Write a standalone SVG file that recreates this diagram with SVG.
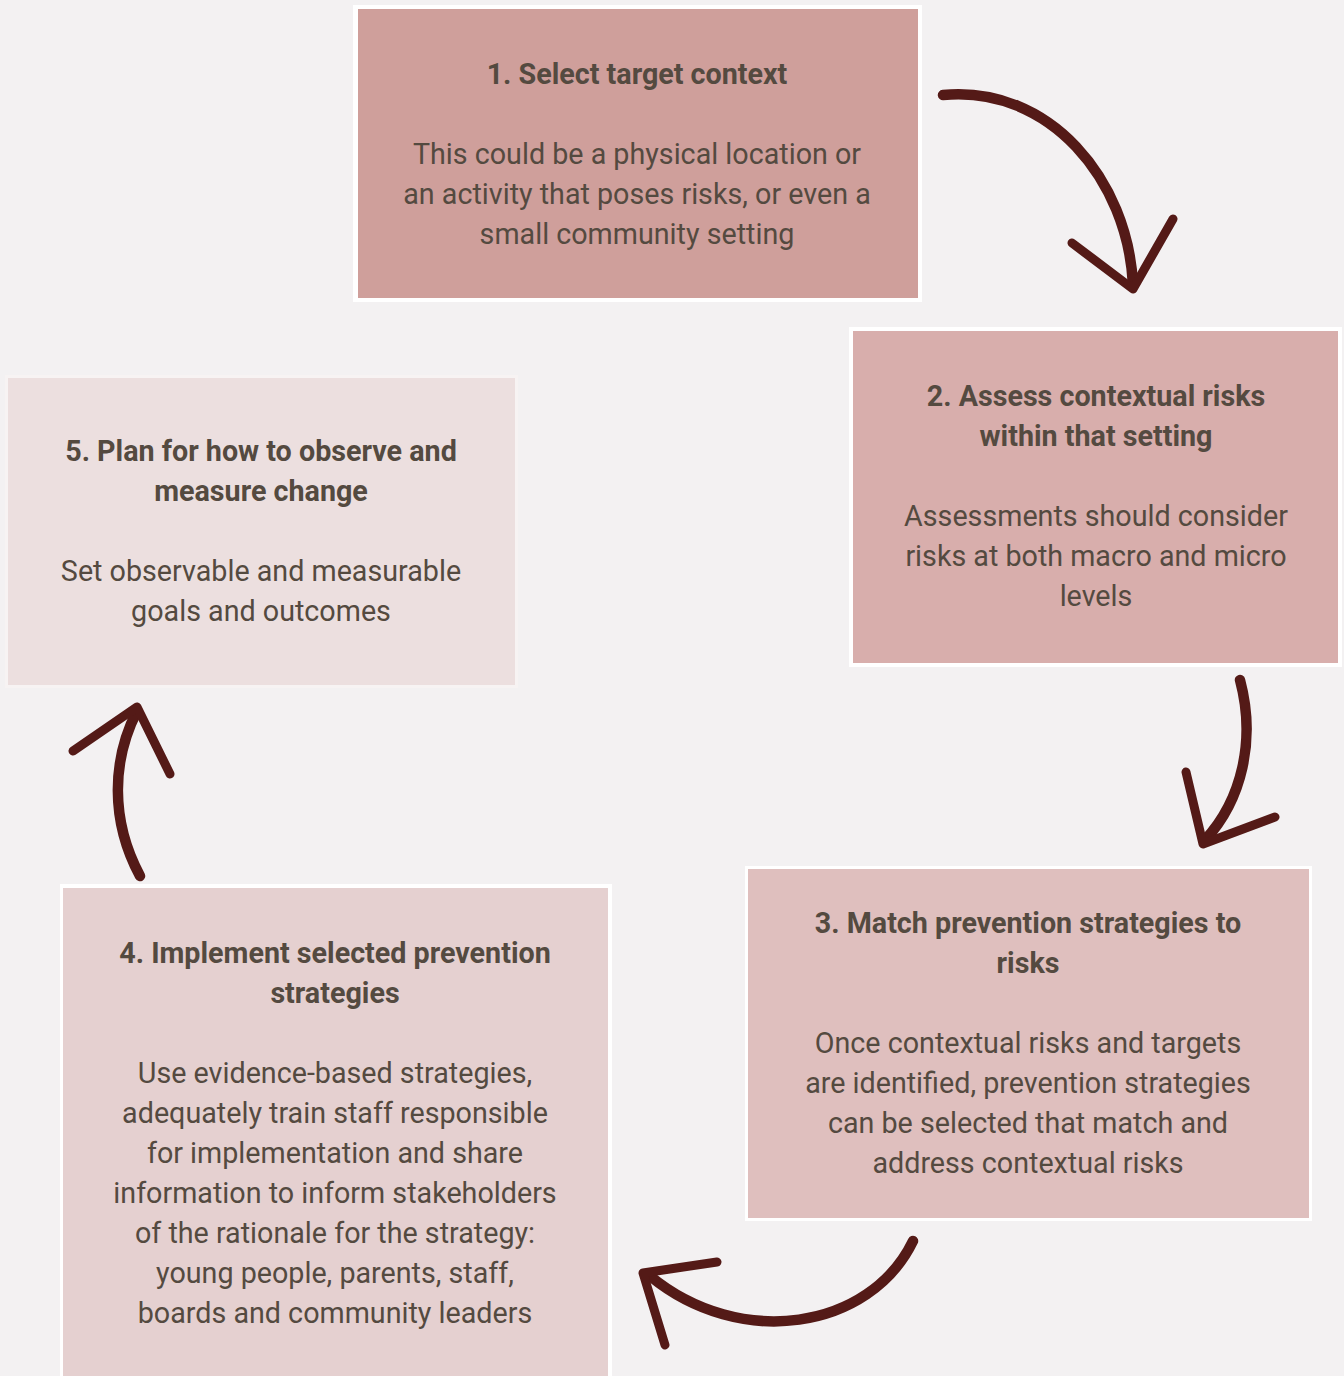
<svg xmlns="http://www.w3.org/2000/svg" width="1344" height="1376" viewBox="0 0 1344 1376">
<style>
.t{font-family:Roboto,"Liberation Sans",sans-serif;font-size:28.7px;fill:#544a40;text-anchor:middle}
.b{font-weight:bold}
.frame{fill:#ffffff}
.arr{fill:none;stroke:#541a17;stroke-width:9;stroke-linecap:round;stroke-linejoin:round}
.cv{stroke-width:10.5}
</style>
<rect width="1344" height="1376" fill="#f3f1f2"/>
<g id="node1">
<rect class="frame" x="353" y="5" width="569" height="297"/>
<rect x="358" y="9" width="560" height="289" fill="#cf9f9b"/>
<text class="t b" x="637" y="84">1. Select target context</text>
<text class="t" x="637" y="164">This could be a physical location or</text>
<text class="t" x="637" y="204">an activity that poses risks, or even a</text>
<text class="t" x="637" y="244">small community setting</text>
</g>
<g id="node2">
<rect class="frame" x="849" y="327" width="493" height="340"/>
<rect x="853" y="331" width="485" height="332" fill="#d8aeac"/>
<text class="t b" x="1096" y="406">2. Assess contextual risks</text>
<text class="t b" x="1096" y="446">within that setting</text>
<text class="t" x="1096" y="526">Assessments should consider</text>
<text class="t" x="1096" y="566">risks at both macro and micro</text>
<text class="t" x="1096" y="606">levels</text>
</g>
<g id="node3">
<rect class="frame" x="745" y="866" width="567" height="355"/>
<rect x="748" y="869" width="561" height="349" fill="#dfbfbe"/>
<text class="t b" x="1028" y="933">3. Match prevention strategies to</text>
<text class="t b" x="1028" y="973">risks</text>
<text class="t" x="1028" y="1053">Once contextual risks and targets</text>
<text class="t" x="1028" y="1093">are identified, prevention strategies</text>
<text class="t" x="1028" y="1133">can be selected that match and</text>
<text class="t" x="1028" y="1173">address contextual risks</text>
</g>
<g id="node4">
<rect class="frame" x="60" y="884" width="552" height="500"/>
<rect x="63" y="888" width="545" height="496" fill="#e5d0d0"/>
<text class="t b" x="335" y="963">4. Implement selected prevention</text>
<text class="t b" x="335" y="1003">strategies</text>
<text class="t" x="335" y="1083">Use evidence-based strategies,</text>
<text class="t" x="335" y="1123">adequately train staff responsible</text>
<text class="t" x="335" y="1163">for implementation and share</text>
<text class="t" x="335" y="1203">information to inform stakeholders</text>
<text class="t" x="335" y="1243">of the rationale for the strategy:</text>
<text class="t" x="335" y="1283">young people, parents, staff,</text>
<text class="t" x="335" y="1323">boards and community leaders</text>
</g>
<g id="node5">
<rect x="5" y="375" width="513" height="313" fill="#f7f3f3"/>
<rect x="8" y="378" width="507" height="307" fill="#ecdfdf"/>
<text class="t b" x="261" y="461">5. Plan for how to observe and</text>
<text class="t b" x="261" y="501">measure change</text>
<text class="t" x="261" y="581">Set observable and measurable</text>
<text class="t" x="261" y="621">goals and outcomes</text>
</g>
<g id="connectors">
<path class="arr cv" d="M 943 95 C 1050 85 1128 180 1133 285"/>
<path class="arr" d="M 1072 243 L 1133 289 L 1173 219"/>
<path class="arr cv" d="M 1240 680 C 1256 740 1242 800 1205 840"/>
<path class="arr" d="M 1186 772 L 1203 844 L 1275 817"/>
<path class="arr cv" d="M 913 1241 C 870 1330 740 1350 650 1276"/>
<path class="arr" d="M 717 1262 L 643 1273 L 665 1345"/>
<path class="arr cv" d="M 140 876 C 110 820 112 760 137 711"/>
<path class="arr" d="M 73 751 L 137 707 L 170 774"/>
</g>
</svg>
